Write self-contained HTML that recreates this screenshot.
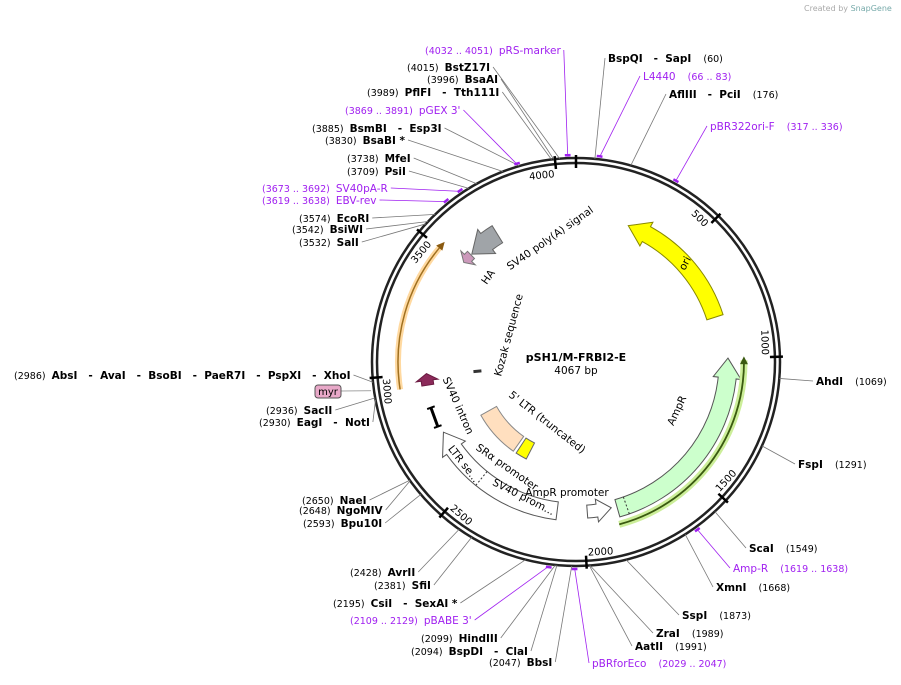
<!DOCTYPE html>
<html><head><meta charset="utf-8">
<style>
body{margin:0;background:#fff;}
svg text{font-family:"DejaVu Sans","Liberation Sans",sans-serif;}
.nm{font-size:10.5px;font-weight:bold;fill:#000}
.pos{font-size:9.5px;fill:#000}
.pr{font-size:10.5px;fill:#a020f0}
.prp{font-size:9.5px;fill:#a020f0}
.ft{font-size:10.5px;fill:#000}
</style></head>
<body>
<svg id="map" width="901" height="680" viewBox="0 0 901 680" xmlns="http://www.w3.org/2000/svg">
<text x="804" y="11" font-size="8" fill="#aaa">Created by <tspan fill="#7aa">SnapGene</tspan></text>
<g id="features"></g>
<g id="ring"></g>
<g id="leaders"></g>
<g id="labels"></g>
<text x="576" y="361" text-anchor="middle" font-size="11" font-weight="bold">pSH1/M-FRBI2-E</text>
<text x="576" y="374" text-anchor="middle" font-size="10.5">4067 bp</text>
</svg>
<script>
const totalBp = 4067;
const tickPositions = [0,500,1000,1500,2000,2500,3000,3500,4000];
const siteNames = ["BspQI - SapI","L4440","AflIII - PciI","pBR322ori-F","AhdI","FspI","ScaI","Amp-R","XmnI","SspI","ZraI","AatII","pBRforEco","BbsI","BspDI - ClaI","HindIII","pBABE 3'","CsiI - SexAI *","SfiI","AvrII","Bpu10I","NgoMIV","NaeI","EagI - NotI","SacII","AbsI - AvaI - BsoBI - PaeR7I - PspXI - XhoI","SalI","BsiWI","EcoRI","EBV-rev","SV40pA-R","PsiI","MfeI","BsaBI *","BsmBI - Esp3I","pGEX 3'","PflFI - Tth111I","BsaAI","BstZ17I","pRS-marker"];
const sitePos = [60,74,176,326,1069,1291,1549,1628,1668,1873,1989,1991,2038,2047,2094,2099,2119,2195,2381,2428,2593,2648,2650,2930,2936,2986,3532,3542,3574,3628,3682,3709,3738,3830,3885,3880,3989,3996,4015,4041];
const siteLabels = ["(60)","(66 .. 83)","(176)","(317 .. 336)","(1069)","(1291)","(1549)","(1619 .. 1638)","(1668)","(1873)","(1989)","(1991)","(2029 .. 2047)","(2047)","(2094)","(2099)","(2109 .. 2129)","(2195)","(2381)","(2428)","(2593)","(2648)","(2650)","(2930)","(2936)","(2986)","(3532)","(3542)","(3574)","(3619 .. 3638)","(3673 .. 3692)","(3709)","(3738)","(3830)","(3885)","(3869 .. 3891)","(3989)","(3996)","(4015)","(4032 .. 4051)"];
const isPrimer = [0,1,0,1,0,0,0,1,0,0,0,0,1,0,0,0,1,0,0,0,0,0,0,0,0,0,0,0,0,1,1,0,0,0,0,1,0,0,0,1];
const labelX = [608,643,669,710,816,798,749,733,716,682,656,635,592,489,411,421,350,333,374,350,303,299,302,259,266,14,299,292,299,262,262,347,347,325,312,345,367,427,407,425];
const labelY = [62,80,98,130,385,468,552,572,591,619,637,650,667,666,655,642,624,607,589,576,527,514,504,426,414,379,246,233,222,204,192,175,162,144,132,114,96,83,71,54];
const labelSide = ["R","R","R","R","R","R","R","R","R","R","R","R","R","L","L","L","L","L","L","L","L","L","L","L","L","L","L","L","L","L","L","L","L","L","L","L","L","L","L","L"];

const featNames = ["ori","AmpR","AmpR promoter","Amp-R line","SRa promoter","5' LTR (truncated)","5' LTR end","orange line","myr","HA","SV40 poly(A) signal","SV40 intron"];
const featStart = [237,1000,1880,995,2115,2430,2340,2950,2950,3520,3570,2810];
const featEnd = [815,1855,1985,1865,2735,2720,2410,3530,3000,3565,3710,2830];

const cx=576, cy=362, R=204;
const NS="http://www.w3.org/2000/svg";
function ang(bp){return bp/totalBp*2*Math.PI;}
function pt(r,bp){const a=ang(bp);return [cx+r*Math.sin(a), cy-r*Math.cos(a)];}
function mk(tag,attrs,parent){const e=document.createElementNS(NS,tag);for(const k in attrs)e.setAttribute(k,attrs[k]);parent.appendChild(e);return e;}
function arcPath(r,b1,b2){const p1=pt(r,b1),p2=pt(r,b2);const large=(b2-b1)/totalBp>0.5?1:0;return `M${p1[0]},${p1[1]} A${r},${r} 0 ${large} 1 ${p2[0]},${p2[1]}`;}
function pxToBp(px,r){return px/r*totalBp/(2*Math.PI);}
function arrowShape(r,w,b1,b2,dir){
  const hl=Math.min(pxToBp(20,r),(b2-b1)*0.6);const ro=r+w/2,ri=r-w/2,rh1=r+w/2+5,rh2=r-w/2-5;
  let d;
  if(dir===0){const a=pt(ro,b1),b=pt(ro,b2),g=pt(ri,b2),h=pt(ri,b1);
    d=`M${a} A${ro},${ro} 0 0 1 ${b} L${g} A${ri},${ri} 0 0 0 ${h} Z`;}
  else if(dir>0){const e=b2-hl;const a=pt(ro,b1),b=pt(ro,e),c=pt(rh1,e),t=pt(r,b2),f=pt(rh2,e),g=pt(ri,e),h=pt(ri,b1);
    d=`M${a} A${ro},${ro} 0 0 1 ${b} L${c} L${t} L${f} L${g} A${ri},${ri} 0 0 0 ${h} Z`;}
  else{const s=b1+hl;const t=pt(r,b1),c=pt(rh1,s),b=pt(ro,s),a=pt(ro,b2),h=pt(ri,b2),g=pt(ri,s),f=pt(rh2,s);
    d=`M${t} L${c} L${b} A${ro},${ro} 0 0 1 ${a} L${h} A${ri},${ri} 0 0 0 ${g} L${f} Z`;}
  return d;
}
const ring=document.getElementById('ring');
const feats=document.getElementById('features');
const leaders=document.getElementById('leaders');
const labels=document.getElementById('labels');

let c1=mk('circle',{cx,cy,r:R,fill:'none',stroke:'#222','stroke-width':2.5},ring);


let c2=mk('circle',{cx,cy,r:R-5,fill:'none',stroke:'#222','stroke-width':2.5},ring);


tickPositions.forEach(tp=>{
  const a=pt(R-10,tp),b=pt(R+3,tp);
  const l=mk('line',{x1:a[0],y1:a[1],x2:b[0],y2:b[1],stroke:'#000','stroke-width':2.5},ring);
  
  
  if(tp>0){const p=pt(R-14,tp);const deg=tp/totalBp*360;const flip=deg>90&&deg<270;const rot=flip?deg-180:deg;
    const t=mk('text',{x:p[0]+(flip?2:-2),y:p[1]+4,'font-size':10,'text-anchor':flip?'start':'end',transform:`rotate(${rot} ${p[0]} ${p[1]})`},ring);
    t.textContent=tp;
    
    }
});

function addFeat(i,r,w,dir,fill,stroke){
  const p=mk('path',{d:arrowShape(r,w,featStart[i],featEnd[i],dir),fill,stroke,'stroke-width':1},feats);
  
  
  return p;
}
addFeat(0,146,17,-1,'#ffff00','#888800');
addFeat(1,152,18,-1,'#ccffcc','#555');
addFeat(2,150,13,-1,'#ffffff','#555');
let gl=mk('path',{d:arcPath(168,featStart[3]+15,featEnd[3]),fill:'none',stroke:'#ccee99','stroke-width':7},feats);


let ol=mk('path',{d:arcPath(168,featStart[3]+15,featEnd[3]),fill:'none',stroke:'#3a5a10','stroke-width':1.8},feats);


{const t=pt(168,featStart[3]),a=pt(164,featStart[3]+30),b=pt(172,featStart[3]+30);
 const h=mk('path',{d:`M${t} L${a} L${b} Z`,fill:'#3a5a10'},feats);
 
 }
addFeat(4,150,18,1,'#ffffff','#555');
{const a=pt(141,2475),b=pt(159,2475);const l=mk('line',{x1:a[0],y1:a[1],x2:b[0],y2:b[1],stroke:'#333','stroke-width':1,'stroke-dasharray':'2,2'},feats);
 
 }
{const a=pt(143,1815),b=pt(161,1815);const l=mk('line',{x1:a[0],y1:a[1],x2:b[0],y2:b[1],stroke:'#333','stroke-width':1,'stroke-dasharray':'2,2'},feats);
 
 }
addFeat(5,100,18,0,'#ffdfbf','#888');
addFeat(6,100,18,0,'#ffff00','#666');
let og=mk('path',{d:arcPath(178,featStart[7],featEnd[7]-20),fill:'none',stroke:'#ffd9a0','stroke-width':6},feats);


let oa=mk('path',{d:arcPath(178,featStart[7],featEnd[7]-20),fill:'none',stroke:'#a07020','stroke-width':1.5},feats);


{const t=pt(178,featEnd[7]),a=pt(174,featEnd[7]-30),b=pt(182,featEnd[7]-30);
 const h=mk('path',{d:`M${t} L${a} L${b} Z`,fill:'#8a5a10'},feats);
 
 }
addFeat(8,150,12,1,'#8b2a5a','#6a1a40');
addFeat(9,150,10,-1,'#cc99bb','#777');
addFeat(10,150,20,-1,'#a0a4a8','#666');
{const p=pt(152,featStart[11]);
 const g=mk('g',{transform:`translate(${p[0]},${p[1]}) rotate(-20)`},feats);
 
 
 mk('line',{x1:0,y1:-10,x2:0,y2:10,stroke:'#000','stroke-width':3},g);
 mk('line',{x1:-4,y1:-10,x2:4,y2:-10,stroke:'#000','stroke-width':2},g);
 mk('line',{x1:-4,y1:10,x2:4,y2:10,stroke:'#000','stroke-width':2},g);}
{const a=pt(95,2990),b=pt(103,2990);const l=mk('line',{x1:a[0],y1:a[1],x2:b[0],y2:b[1],stroke:'#333','stroke-width':3},feats);
 
 }

const ftxt=[["ori",688,265,-62],["AmpR",680,412,-65],["AmpR promoter",567,496,0],["5' LTR (truncated)",545,425,38],["SV40 intron",455,407,66],["SRα promoter",505,470,35],["LTR se...",461,466,52],["SV40 prom...",522,500,27],["Kozak sequence",512,336,-75],["HA",491,279,-55],["SV40 poly(A) signal",552,241,-35]];
ftxt.forEach(f=>{const t=mk('text',{x:f[1],y:f[2],class:'ft','text-anchor':'middle',transform:`rotate(${f[3]} ${f[1]} ${f[2]})`},feats);
 t.textContent=f[0];
 
 });
{const r=mk('rect',{x:315,y:385,width:26,height:13,rx:3,fill:'#e8a8c8',stroke:'#555'},labels);
 
 
 const t=mk('text',{x:328,y:395,'font-size':10,'text-anchor':'middle'},labels);t.textContent='myr';
 
 
 const a=pt(207,2960);const l=mk('line',{x1:341,y1:391,x2:a[0],y2:a[1],stroke:'#888','stroke-width':0.8},leaders);
 
 }

siteNames.forEach((nm,i)=>{
  const g=mk('g',{},labels);
  
  
  const prim=isPrimer[i];
  const t=mk('text',{x:labelX[i],y:labelY[i],style:'white-space:pre'},g);
  const s1=document.createElementNS(NS,'tspan');const s2=document.createElementNS(NS,'tspan');
  const nmS=nm.replace(/ - /g,'   -  ');
  if(labelSide[i]==='R'){s1.textContent=nmS;s1.setAttribute('class',prim?'pr':'nm');s2.textContent='    '+siteLabels[i];s2.setAttribute('class',prim?'prp':'pos');}
  else{s1.textContent=siteLabels[i]+'  ';s1.setAttribute('class',prim?'prp':'pos');s2.textContent=nmS;s2.setAttribute('class',prim?'pr':'nm');}
  t.appendChild(s1);t.appendChild(s2);
  const w=t.getComputedTextLength();
  const ex=labelSide[i]==='R'?labelX[i]-3:labelX[i]+w+3;
  const a=pt(prim?206:204,sitePos[i]);
  const l=mk('line',{x1:a[0],y1:a[1],x2:ex,y2:labelY[i]-4,stroke:prim?'#a020f0':'#777','stroke-width':0.8},leaders);
  
  
  if(prim){const b1=pt(207,sitePos[i]-9),b2=pt(207,sitePos[i]+9);
    const m=mk('path',{d:`M${b1} A207,207 0 0 1 ${b2}`,stroke:'#a020f0','stroke-width':2.5,fill:'none'},leaders);
    
    }
});
</script>
</body></html>
